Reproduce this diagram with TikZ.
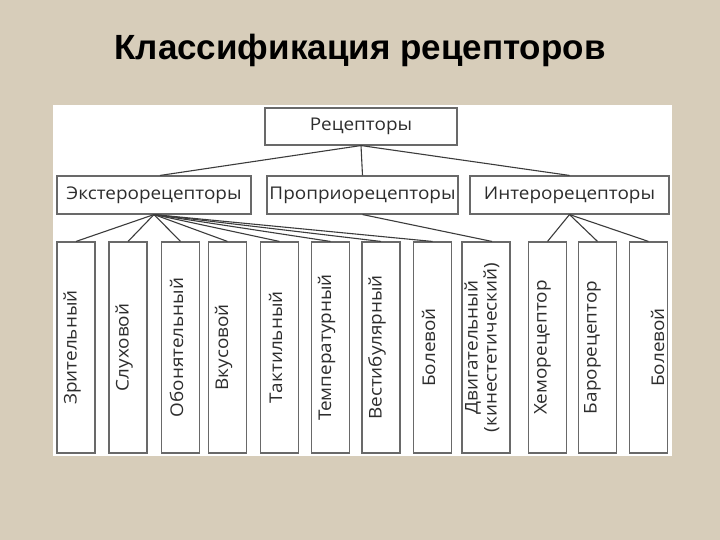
\documentclass[tikz,border=0pt]{standalone}
\usepackage{fontspec}
\setmainfont{Open Sans}
\newfontfamily\boxfont[FakeStretch=1.08]{Open Sans}
\newfontfamily\titlefont{Liberation Sans}
\definecolor{bg}{RGB}{215,205,186}
\definecolor{boxgray}{RGB}{105,105,105}
\definecolor{linegray}{RGB}{60,60,60}
\definecolor{txt}{RGB}{45,45,45}
\begin{document}
\begin{tikzpicture}[x=1pt,y=-1pt,
  box/.style={draw=boxgray, line width=1.1pt, fill=white, inner sep=0pt, text=txt,
    font=\boxfont\fontsize{17.5}{20}\selectfont},
  top/.style={box, minimum height=38pt},
  leaf/.style={box, minimum width=38pt, minimum height=211pt},
  lbl/.style={rotate=90, inner sep=0pt, text=txt, align=center,
    font=\boxfont\fontsize{17.5}{19}\selectfont},
  conn/.style={draw=linegray, line width=1.1pt}]
\useasboundingbox (0,0) rectangle (720,540);
\fill[bg] (0,0) rectangle (720,540);
\fill[white] (53,105) rectangle (672,456);
\node[font=\titlefont\bfseries\fontsize{35}{40}\selectfont, text=black, anchor=base] (title) at (360,60) {Классификация рецепторов};

\node[top, minimum width=192pt, minimum height=37pt] (rec) at (361,126.5) {Рецепторы};
\node[top, minimum width=194pt] (ext) at (154,195) {Экстерорецепторы};
\node[top, minimum width=191pt] (pro) at (362.5,195) {Проприорецепторы};
\node[top, minimum width=199pt] (int) at (569.5,195) {Интерорецепторы};

\node[leaf] (l1) at (76,347.5) {};
\node[leaf] (l2) at (128,347.5) {};
\node[leaf] (l3) at (180.5,347.5) {};
\node[leaf] (l4) at (227.5,347.5) {};
\node[leaf] (l5) at (279.5,347.5) {};
\node[leaf] (l6) at (330.5,347.5) {};
\node[leaf] (l7) at (381,347.5) {};
\node[leaf] (l8) at (432.5,347.5) {};
\node[leaf, minimum width=48pt] (l9) at (486,347.5) {};
\node[leaf] (l10) at (547.5,347.5) {};
\node[leaf] (l11) at (597.5,347.5) {};
\node[leaf] (l12) at (648.5,347.5) {};

\node[lbl] (t1) at (l1.center) [yshift=4pt] {Зрительный};
\node[lbl] (t2) at (l2.center) [yshift=4pt] {Слуховой};
\node[lbl] (t3) at (l3.center) [yshift=4pt] {Обонятельный};
\node[lbl] (t4) at (l4.center) [yshift=4pt] {Вкусовой};
\node[lbl] (t5) at (l5.center) [yshift=4pt] {Тактильный};
\node[lbl] (t6) at (l6.center) [yshift=4pt] {Температурный};
\node[lbl] (t7) at (l7.center) [yshift=4pt] {Вестибулярный};
\node[lbl] (t8) at (l8.center) [yshift=4pt] {Болевой};
\node[lbl] (t9) at (l9.center) [yshift=4pt] {Двигательный\\(кинестетический)};
\node[lbl] (t10) at (l10.center) [yshift=5pt] {Хеморецептор};
\node[lbl] (t11) at (l11.center) [yshift=5pt] {Барорецептор};
\node[lbl] (t12) at (l12.center) [yshift=-9pt] {Болевой};

\draw[conn] (rec.south) -- ([xshift=6pt]ext.north);
\draw[conn] (rec.south) -- (pro.north);
\draw[conn] (rec.south) -- (int.north);
\foreach \i in {1,...,8} \draw[conn] (ext.south) -- (l\i.north);
\draw[conn] (pro.south) -- ([xshift=6pt]l9.north);
\foreach \i in {10,11,12} \draw[conn] (int.south) -- (l\i.north);
\end{tikzpicture}
\end{document}
